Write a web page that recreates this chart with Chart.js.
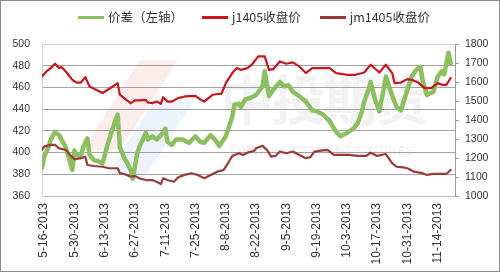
<!DOCTYPE html>
<html>
<head>
<meta charset="utf-8">
<script src="https://cdn.jsdelivr.net/npm/chart.js@4.4.0/dist/chart.umd.min.js"></script>
<style>
  html, body { margin: 0; padding: 0; background: #fff; }
  #frame { position: relative; width: 500px; height: 272px; box-sizing: border-box; border: 1px solid #8c8c8c; background: #fff; }
  #chart { position: absolute; left: 0; top: 0; }
  #legend { position: absolute; left: 77px; top: 7px; display: flex; font: 12.5px "Noto Sans CJK SC"; color: #333; line-height: 18px; }
  #legend .item { display: flex; align-items: center; margin-right: 19px; }
  #legend .swatch { width: 26px; height: 3px; margin-right: 4px; }
</style>
</head>
<body>
<div id="frame">
  <canvas id="chart" width="498" height="270"></canvas>
  <div id="legend"></div>
</div>
<script>
// series names and colours
const seriesNames = ['价差（左轴）', 'j1405收盘价', 'jm1405收盘价'];
const seriesColors = ['#8cbf5f', '#c8161e', '#9c3b3b'];

// x axis tick labels (every two weeks)
const tickLabels = ['5-16-2013', '5-30-2013', '6-13-2013', '6-27-2013', '7-11-2013', '7-25-2013', '8-8-2013',
  '8-22-2013', '9-5-2013', '9-19-2013', '10-3-2013', '10-17-2013', '10-31-2013', '11-14-2013'];

// spread, left axis
const spreadDates = ['5-15','5-16','5-18','5-19','5-21','5-23','5-24','5-26','5-27','5-29','5-30','5-31',
  '6-2','6-3','6-5','6-6','6-8','6-10','6-12','6-14','6-16','6-18','6-19','6-20','6-22','6-23','6-25','6-26','6-28','6-29',
  '7-2','7-3','7-5','7-7','7-9','7-11','7-12','7-14','7-16','7-19','7-22','7-25','7-27','7-29',
  '8-1','8-3','8-5','8-8','8-9','8-11','8-12','8-14','8-15','8-17','8-19','8-22','8-25','8-26','8-28','8-30',
  '9-2','9-4','9-6','9-8','9-11','9-14','9-17','9-19','9-22','9-25','9-28','9-30',
  '10-3','10-6','10-8','10-10','10-11','10-13','10-14','10-16','10-18','10-20','10-21','10-24','10-26','10-28','10-31',
  '11-2','11-4','11-6','11-7','11-9','11-12','11-14','11-16','11-17','11-19','11-20'];
const spread = [386,396,405,412,419,416,412,405,398,384,402,398,
  396,405,413,398,393,392,390,405,418,430,435,405,395,392,384,376,399,405,
  418,412,415,412,416,422,410,407,412,412,409,415,410,409,
  416,412,406,415,421,433,444,445,442,449,450,453,461,475,452,458,
  465,461,462,456,452,447,439,438,435,429,419,415,
  418,422,427,438,447,458,465,449,438,458,470,452,442,439,458,
  470,476,479,467,453,456,470,475,472,492,482];

// j1405 close, right axis
const jDates = ['5-15','5-17','5-19','5-21','5-23','5-24','5-26','5-29','5-31',
  '6-2','6-4','6-6','6-9','6-12','6-15','6-19','6-20','6-23','6-25','6-27','6-29',
  '7-2','7-3','7-5','7-7','7-9','7-10','7-12','7-14','7-17','7-20','7-25','7-27','7-29',
  '8-2','8-5','8-6','8-8','8-11','8-13','8-15','8-18','8-20','8-23','8-26','8-28','8-30',
  '9-2','9-5','9-8','9-11','9-14','9-17','9-22','9-25','9-28',
  '10-3','10-7','10-11','10-14','10-18','10-21','10-24','10-25','10-28','10-31',
  '11-2','11-5','11-8','11-11','11-14','11-16','11-18','11-20'];
const jClose = [1629,1655,1673,1696,1673,1679,1655,1612,1597,
  1597,1626,1576,1559,1542,1563,1594,1533,1506,1489,1503,1503,
  1506,1492,1489,1497,1485,1520,1497,1497,1515,1524,1527,1510,1497,
  1533,1538,1538,1594,1647,1673,1664,1673,1691,1735,1735,1664,1668,
  1708,1696,1703,1682,1647,1673,1673,1673,1647,
  1638,1638,1650,1691,1650,1691,1647,1594,1597,1615,
  1612,1597,1568,1568,1594,1585,1585,1621];

// jm1405 close, right axis
const jmDates = ['5-15','5-16','5-19','5-21','5-23','5-26','5-28','5-30',
  '6-2','6-4','6-5','6-8','6-12','6-15','6-19','6-20','6-22','6-25','6-27','6-29',
  '7-2','7-5','7-7','7-9','7-10','7-12','7-15','7-17','7-20','7-23','7-26','7-29',
  '8-1','8-4','8-7','8-9','8-11','8-14','8-16','8-18','8-21','8-22','8-25','8-27','8-29','8-31',
  '9-2','9-5','9-8','9-11','9-14','9-16','9-18','9-21','9-24','9-27',
  '10-1','10-4','10-8','10-12','10-14','10-17','10-21','10-24','10-26','10-29','10-31',
  '11-3','11-7','11-9','11-12','11-15','11-18','11-20'];
const jmClose = [1243,1260,1269,1269,1251,1243,1216,1193,
  1199,1207,1163,1158,1154,1146,1146,1120,1116,1102,1105,1093,
  1084,1084,1075,1063,1093,1084,1075,1099,1111,1120,1111,1093,
  1111,1128,1137,1172,1211,1225,1216,1228,1237,1251,1264,1243,1207,1211,
  1234,1225,1234,1216,1199,1204,1234,1239,1243,1216,
  1216,1216,1211,1211,1228,1211,1221,1172,1154,1151,1146,
  1128,1120,1111,1116,1116,1116,1137];

// days counted from 5-16-2013
const dayOf = s => {
  const p = s.split('-').map(Number);
  return (Date.UTC(2013, p[0] - 1, p[1]) - Date.UTC(2013, 4, 16)) / 864e5;
};
const toPoints = (dates, vals) => dates.map((d, i) => ({ x: dayOf(d), y: vals[i] }));
const tickDays = tickLabels.map(t => dayOf(t.slice(0, t.lastIndexOf('-'))));

// html legend
const legendEl = document.getElementById('legend');
seriesNames.forEach((name, i) => {
  const item = document.createElement('div');
  item.className = 'item';
  item.innerHTML = `<span class="swatch" style="background:${seriesColors[i]}"></span><span>${name}</span>`;
  legendEl.appendChild(item);
});

// faint company watermark behind the lines
const watermark = {
  id: 'watermark',
  beforeDatasetsDraw(chart) {
    const ctx = chart.ctx;
    ctx.save();
    ctx.fillStyle = 'rgba(220,60,60,0.09)';
    ctx.beginPath();
    ctx.moveTo(139, 59); ctx.lineTo(177, 59); ctx.lineTo(119, 149); ctx.lineTo(81, 149);
    ctx.closePath(); ctx.fill();
    ctx.fillStyle = 'rgba(70,120,210,0.09)';
    ctx.beginPath();
    ctx.moveTo(154, 99); ctx.lineTo(194, 99); ctx.lineTo(145, 174); ctx.lineTo(105, 174);
    ctx.closePath(); ctx.fill();
    ctx.fillStyle = 'rgba(140,140,140,0.11)';
    ctx.textAlign = 'center';
    ctx.textBaseline = 'middle';
    ctx.font = 'bold 54px "Noto Sans CJK SC"';
    ['中', '投', '期', '货'].forEach((c, i) => ctx.fillText(c, 246 + i * 51.5, 99));
    ctx.font = 'bold 12.5px "Liberation Sans"';
    ctx.fillText('CHINA INVESTMENT FUTURES', 320, 151);
    ctx.restore();
  }
};

new Chart(document.getElementById('chart'), {
  type: 'line',
  data: {
    datasets: [
      { label: seriesNames[0], data: toPoints(spreadDates, spread), yAxisID: 'yL',
        borderColor: seriesColors[0], borderWidth: 4.5, order: 2 },
      { label: seriesNames[1], data: toPoints(jDates, jClose), yAxisID: 'yR',
        borderColor: seriesColors[1], borderWidth: 2.2, order: 1 },
      { label: seriesNames[2], data: toPoints(jmDates, jmClose), yAxisID: 'yR',
        borderColor: seriesColors[2], borderWidth: 2.2, order: 0 }
    ]
  },
  options: {
    responsive: false,
    animation: false,
    events: [],
    layout: { padding: { top: 43, left: 0, right: 0, bottom: 0 } },
    elements: {
      point: { radius: 0 },
      line: { tension: 0, borderJoinStyle: 'round', borderCapStyle: 'round', fill: false }
    },
    plugins: { legend: { display: false }, tooltip: { enabled: false } },
    scales: {
      x: {
        type: 'linear', min: -1, max: 190,
        afterBuildTicks: axis => { axis.ticks = tickDays.map(v => ({ value: v })); },
        afterFit: axis => { axis.height = 75; },
        grid: { display: false, drawTicks: false },
        border: { color: '#bdbdbd' },
        ticks: {
          autoSkip: false, maxRotation: 90, minRotation: 90, padding: 7,
          color: '#333', font: { family: 'Liberation Sans', size: 12 },
          callback: v => tickLabels[tickDays.indexOf(v)]
        }
      },
      yL: {
        position: 'left', min: 360, max: 500,
        afterFit: axis => { axis.width = 41; },
        grid: {
          drawTicks: false,
          color: c => (c.tick.value === 500 || c.tick.value === 360) ? '#d2d2d2' : '#a3a3a3'
        },
        border: { color: '#d2d2d2' },
        ticks: { stepSize: 20, padding: 12, color: '#333', font: { family: 'Liberation Sans', size: 10.5 },
          callback: v => String(v) }
      },
      yR: {
        position: 'right', min: 1000, max: 1800,
        afterFit: axis => { axis.width = 44; },
        grid: { drawOnChartArea: false, drawTicks: true, tickLength: 4, color: '#9a9a9a' },
        border: { color: '#9a9a9a' },
        ticks: { stepSize: 100, padding: 6, color: '#333', font: { family: 'Liberation Sans', size: 10.5 },
          callback: v => String(v) }
      }
    }
  },
  plugins: [watermark]
});
</script>
</body>
</html>
